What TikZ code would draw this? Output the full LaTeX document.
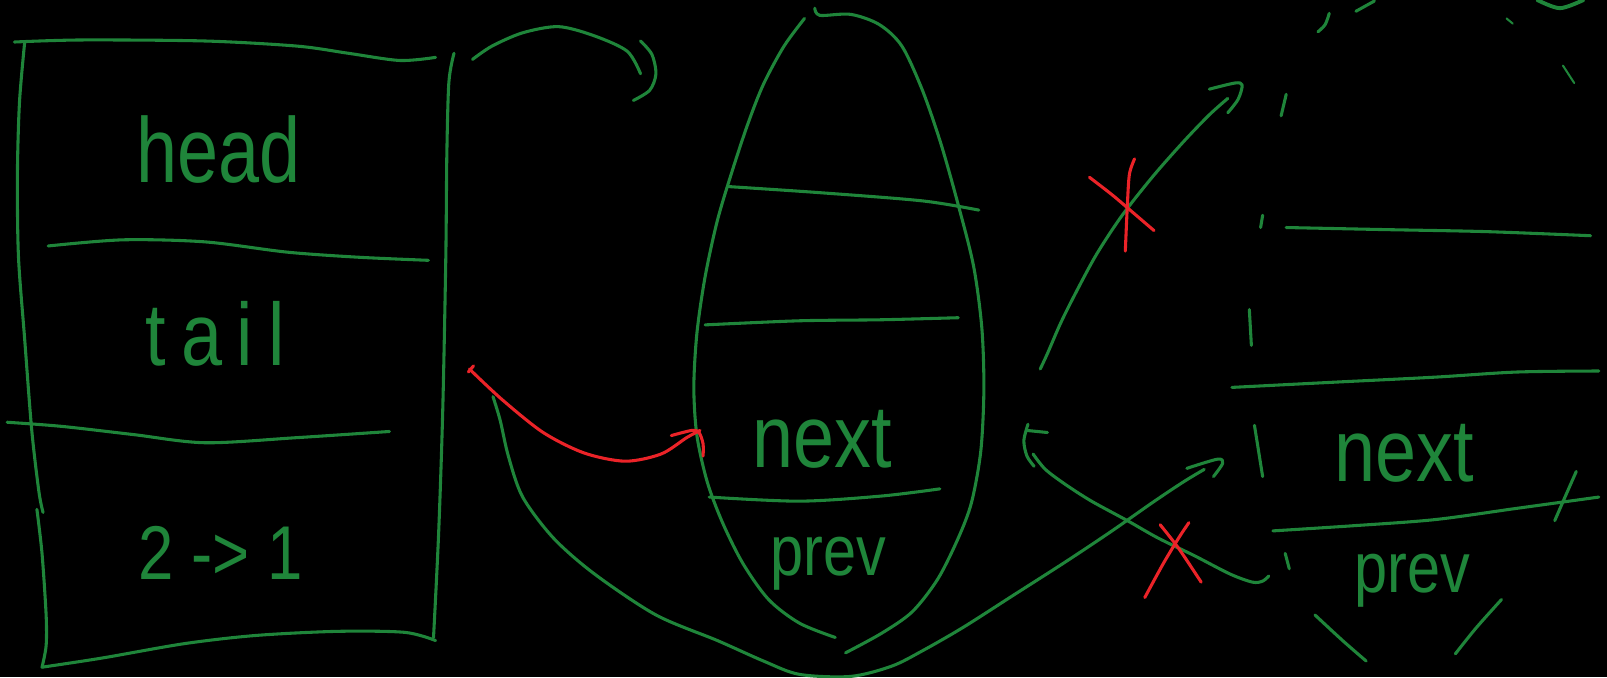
\documentclass[tikz,border=0pt]{standalone}
\usepackage{fontspec}
\setmainfont{Liberation Sans}
\definecolor{pen}{RGB}{31,133,58}
\definecolor{redpen}{RGB}{235,35,40}
\tikzset{
  gstroke/.style={draw=pen, line width=3pt, line cap=round, line join=round},
  rstroke/.style={draw=redpen, line width=3pt, line cap=round, line join=round},
  lbl/.style={text=pen, inner sep=0pt, anchor=base, font=\fontsize{72}{80}\selectfont},
}
\begin{document}
\begin{tikzpicture}[x=1pt,y=-1pt]
\useasboundingbox[fill=black] (0,0) rectangle (1568,661);

% ---------- left record box ----------
\draw[gstroke] plot[smooth] coordinates {(14,41) (80,39) (200,40) (290,45) (340,52) (390,59) (425,56)};
\draw[gstroke] plot[smooth] coordinates {(24,42) (19,100) (17,170) (18,250) (24,330) (31,420) (38,480) (42,500)};
\draw[gstroke] plot[smooth] coordinates {(36,497) (41,540) (45,600) (45,630) (41,651)};
\draw[gstroke] plot[smooth] coordinates {(41,651) (100,642) (180,628) (250,620) (330,616) (395,617) (425,625)};
\draw[gstroke] plot[smooth] coordinates {(443,52) (438,80) (436,150) (435,250) (432,400) (428,520) (423,622)};
\draw[gstroke] plot[smooth] coordinates {(47,240) (120,234) (200,236) (280,246) (350,251) (418,254)};
\draw[gstroke] plot[smooth] coordinates {(7,412) (60,416) (130,424) (200,432) (290,427) (380,421)};
\node[lbl] (head) at (213,178) {\scalebox{1}[1.25]{head}};
\node[lbl, font=\fontsize{72}{80}\selectfont\addfontfeature{LetterSpace=20}] (tail) at (210,357) {\scalebox{1}[1.2]{tail}};
\node[lbl, font=\fontsize{62}{70}\selectfont] (cnt) at (215,565) {\scalebox{1}[1.2]{2 -> 1}};

% ---------- middle node (egg) ----------
\draw[gstroke] plot[smooth] coordinates {(785,18) (765,45) (745,82) (730,120) (715,165) (700,215) (688,270) (680,325) (677,378) (680,425) (690,470) (705,510) (725,550) (750,585) (780,608) (815,622)};
\draw[gstroke] plot[smooth] coordinates {(795,8) (800,15) (830,14) (858,24) (880,45) (900,88) (918,140) (935,200) (950,260) (958,320) (960,380) (957,440) (948,490) (935,525) (915,565) (890,597) (860,618) (825,637)};
\draw[gstroke] plot[smooth] coordinates {(710,182) (800,188) (900,196) (955,205)};
\draw[gstroke] plot[smooth] coordinates {(688,317) (780,313) (860,312) (935,310)};
\draw[gstroke] plot[smooth] coordinates {(692,485) (780,489) (860,484) (917,477)};
\node[lbl] (next1) at (802,456) {\scalebox{1}[1.2]{next}};
\node[lbl, font=\fontsize{58}{64}\selectfont] (prev1) at (808,562) {\scalebox{1}[1.2]{prev}};

% ---------- top curved arrow ----------
\draw[gstroke] plot[smooth] coordinates {(461,58) (480,45) (510,32) (545,26) (580,35) (612,50) (625,72)};
\draw[gstroke] plot[smooth] coordinates {(625,40) (636,53) (640,72) (634,88) (618,98)};

% ---------- red arrow ----------
\draw[rstroke] (457,363) -- (462,357);
\draw[rstroke] plot[smooth] coordinates {(458,360) (490,390) (530,422) (570,442) (610,450) (645,443) (670,427) (683,420)};
\draw[rstroke] plot[smooth] coordinates {(655,425) (675,420) (682,422) (686,433) (686,445)};

% ---------- long green arrow ----------
\draw[gstroke] plot[smooth] coordinates {(481,387) (488,410) (496,445) (510,485) (540,525) (580,560) (640,600) (700,625) (745,645) (780,658) (830,660) (870,650) (900,635) (940,612) (990,580) (1040,548) (1085,518) (1125,490) (1155,470) (1175,458)};
\draw[gstroke] plot[smooth] coordinates {(1158,457) (1188,448) (1193,452) (1184,465)};

% ---------- upper right arrow with red cross ----------
\draw[gstroke] plot[smooth] coordinates {(1015,360) (1022,345) (1035,315) (1050,285) (1070,248) (1095,210) (1125,172) (1155,138) (1180,112) (1198,96)};
\draw[gstroke] plot[smooth] coordinates {(1180,87) (1205,81) (1212,83) (1208,97) (1198,110)};
\draw[rstroke] plot[smooth] coordinates {(1063,173) (1085,190) (1105,207) (1126,225)};
\draw[rstroke] plot[smooth] coordinates {(1107,155) (1102,170) (1100,200) (1098,245)};

% ---------- lower arrow back to egg with red cross ----------
\draw[gstroke] plot[smooth] coordinates {(1238,562) (1232,567) (1222,568) (1200,560) (1165,542) (1130,525) (1100,508) (1065,489) (1040,473) (1020,458) (1008,443)};
\draw[gstroke] (1022,422) -- (1002,420);
\draw[gstroke] plot[smooth] coordinates {(1003,414) (999,430) (1002,445) (1009,455)};
\draw[rstroke] plot[smooth] coordinates {(1132,512) (1150,535) (1172,568)};
\draw[rstroke] plot[smooth] coordinates {(1160,510) (1150,525) (1135,550) (1117,583)};

% ---------- right partial node ----------
\draw[gstroke] plot[smooth] coordinates {(1255,222) (1350,224) (1450,226) (1552,230)};
\draw[gstroke] plot[smooth] coordinates {(1202,378) (1300,373) (1400,368) (1480,363) (1560,362)};
\draw[gstroke] plot[smooth] coordinates {(1242,518) (1320,513) (1400,507) (1480,496) (1560,485)};
\draw[gstroke] plot[smooth] coordinates {(1538,460) (1527,485) (1517,508)};
\draw[gstroke] (1224,415) -- (1232,465);
\draw[gstroke] (1254,540) -- (1258,555);
\draw[gstroke] (1219,302) -- (1221,337);
\draw[gstroke] (1232,210) -- (1230,222);
\draw[gstroke] (1255,92) -- (1250,113);
\draw[gstroke] plot[smooth] coordinates {(1297,13) (1293,24) (1286,31)};
\draw[gstroke] (1323,11) -- (1341,1);
\draw[gstroke, line width=3.8pt] plot[smooth] coordinates {(1500,0) (1522,8) (1545,0)};
\draw[gstroke, line width=2pt] (1470,18) -- (1476,23);
\draw[gstroke, line width=2pt] (1525,64) -- (1536,81);
\draw[gstroke] plot[smooth] coordinates {(1283,600) (1310,625) (1333,645)};
\draw[gstroke] plot[smooth] coordinates {(1465,585) (1440,613) (1420,638)};
\node[lbl] (next2) at (1370,470) {\scalebox{1}[1.2]{next}};
\node[lbl, font=\fontsize{58}{64}\selectfont] (prev2) at (1378,578) {\scalebox{1}[1.2]{prev}};
\end{tikzpicture}
\end{document}
